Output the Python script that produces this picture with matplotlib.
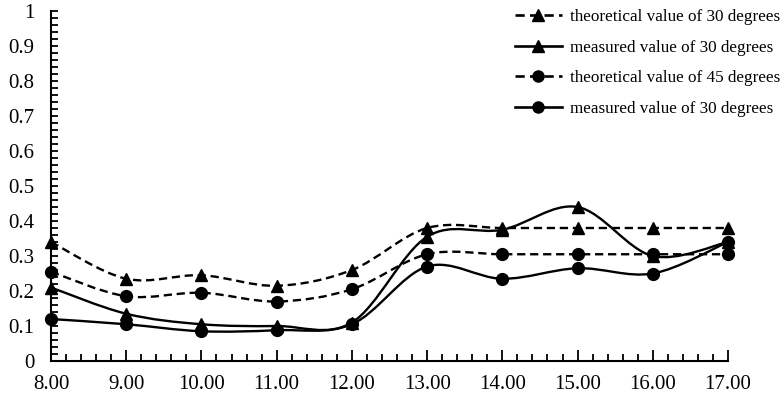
import matplotlib.pyplot as plt
from matplotlib.path import Path
from matplotlib.patches import PathPatch
from matplotlib.lines import Line2D
from matplotlib.ticker import MultipleLocator

hours = [8, 9, 10, 11, 12, 13, 14, 15, 16, 17]
hour_labels = ['8.00', '9.00', '10.00', '11.00', '12.00', '13.00', '14.00', '15.00', '16.00', '17.00']

theory_30 = [0.34, 0.235, 0.245, 0.215, 0.26, 0.38, 0.38, 0.38, 0.38, 0.38]
measured_30 = [0.21, 0.135, 0.105, 0.10, 0.11, 0.355, 0.375, 0.44, 0.30, 0.34]
theory_45 = [0.255, 0.185, 0.195, 0.17, 0.205, 0.305, 0.305, 0.305, 0.305, 0.305]
measured_30b = [0.12, 0.105, 0.085, 0.088, 0.105, 0.27, 0.235, 0.265, 0.25, 0.34]

labels = ['theoretical value of 30 degrees', 'measured value of 30 degrees',
          'theoretical value of 45 degrees', 'measured value of 30 degrees']

plt.rcParams['font.family'] = ['Liberation Serif', 'DejaVu Serif']


def smooth_path(x, y):
    # excel-style smoothed line: cubic bezier through every point
    verts = [(x[0], y[0])]
    codes = [Path.MOVETO]
    n = len(x)
    for i in range(n - 1):
        x0, y0 = (x[i - 1], y[i - 1]) if i > 0 else (x[i], y[i])
        x3, y3 = (x[i + 2], y[i + 2]) if i + 2 < n else (x[i + 1], y[i + 1])
        c1 = (x[i] + (x[i + 1] - x0) / 6, y[i] + (y[i + 1] - y0) / 6)
        c2 = (x[i + 1] - (x3 - x[i]) / 6, y[i + 1] - (y3 - y[i]) / 6)
        verts += [c1, c2, (x[i + 1], y[i + 1])]
        codes += [Path.CURVE4] * 3
    return Path(verts, codes)


fig = plt.figure(figsize=(7.82, 3.99), dpi=100)
ax = fig.add_axes([51 / 782, 1 - 361 / 399, (728 - 51) / 782, 350 / 399])

dash = (0, (3.5, 2))
series = [
    (theory_30, '^', dash),
    (measured_30, '^', '-'),
    (theory_45, 'o', dash),
    (measured_30b, 'o', '-'),
]

handles = []
for vals, mk, ls in series:
    ax.add_patch(PathPatch(smooth_path(hours, vals), fill=False, edgecolor='black',
                           linewidth=1.7, linestyle=ls, zorder=2))
    ax.plot(hours, vals, linestyle='none', marker=mk, markersize=8.5,
            color='black', zorder=3, clip_on=False)
    handles.append(Line2D([], [], color='black', linewidth=1.9, linestyle=ls,
                          marker=mk, markersize=8))

ax.set_xlim(8, 17)
ax.set_ylim(0, 1)
ax.set_xticks(hours)
ax.set_xticklabels(hour_labels)
ax.xaxis.set_minor_locator(MultipleLocator(0.2))
ax.set_yticks([0, 0.1, 0.2, 0.3, 0.4, 0.5, 0.6, 0.7, 0.8, 0.9, 1.0])
ax.set_yticklabels(['0', '0.1', '0.2', '0.3', '0.4', '0.5', '0.6', '0.7', '0.8', '0.9', '1'])
ax.yaxis.set_minor_locator(MultipleLocator(0.02))

for s in ['top', 'right']:
    ax.spines[s].set_visible(False)
for s in ['left', 'bottom']:
    ax.spines[s].set_linewidth(1.5)

ax.tick_params(axis='x', which='major', direction='in', length=8, width=1.3,
               labelsize=15, pad=10)
ax.tick_params(axis='x', which='minor', direction='in', length=5, width=1.3)
ax.tick_params(axis='y', which='major', direction='in', length=5, width=1.3,
               labelsize=15, pad=12)
ax.tick_params(axis='y', which='minor', direction='in', length=5, width=1.3)

fig.legend(handles, labels, loc='upper left', bbox_to_anchor=(515 / 782, 1 - 9 / 399),
           frameon=False, fontsize=12.3, handlelength=2.75, handletextpad=0.45,
           labelspacing=0.85, borderpad=0, borderaxespad=0)

fig.savefig('out.png', dpi=100)
